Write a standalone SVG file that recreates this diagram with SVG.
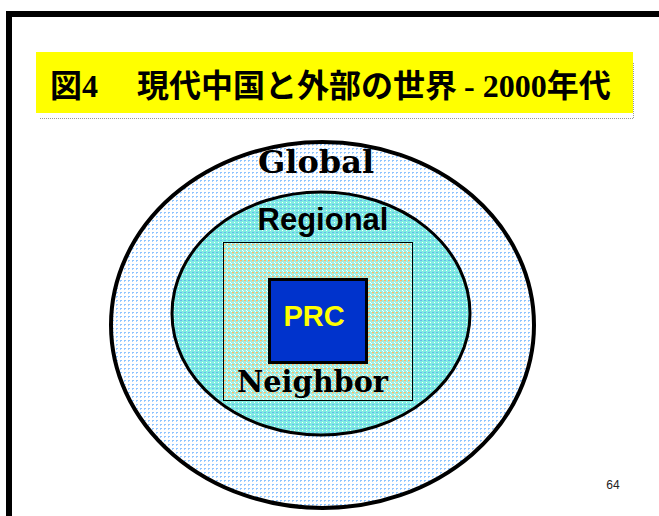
<svg xmlns="http://www.w3.org/2000/svg" width="659" height="516" viewBox="0 0 659 516">
<style>
.title{font-family:"Liberation Serif","Noto Sans CJK JP",serif;font-weight:bold;font-size:32px;fill:#000}
.cjk{font-family:"Noto Sans CJK JP",sans-serif;font-weight:bold}
.serifb{font-family:"DejaVu Serif",serif;font-weight:bold;fill:#000}
.sansb{font-family:"Liberation Sans",Arial,sans-serif;font-weight:bold}
</style>
<defs>
<pattern id="pGlobal" width="4" height="4" patternUnits="userSpaceOnUse">
<rect width="4" height="4" fill="#ffffff"/>
<rect x="0" y="0" width="2" height="1" fill="#8cc4ff"/>
<rect x="0" y="1" width="1" height="1" fill="#a8d0ff"/>
</pattern>
<pattern id="pRegional" width="4" height="4" patternUnits="userSpaceOnUse">
<rect width="4" height="4" fill="#80ece2"/>
<rect x="0" y="0" width="2" height="1" fill="#66b8ee"/>
<rect x="2" y="2" width="1" height="1" fill="#ffffff"/>
</pattern>
<pattern id="pNeighbor" width="4" height="4" patternUnits="userSpaceOnUse">
<rect width="4" height="4" fill="#9cf0e4"/>
<rect x="0" y="0" width="2" height="1" fill="#ffb868"/>
<rect x="0" y="1" width="1" height="1" fill="#ffd0a0"/>
<rect x="2" y="2" width="1" height="1" fill="#ffffff"/>
<rect x="3" y="3" width="1" height="1" fill="#ffffff"/>
</pattern>
</defs>
<rect width="659" height="516" fill="#ffffff"/>
<g id="frame">
<rect x="6" y="11" width="653" height="6" fill="#000"/>
<rect x="6" y="11" width="6" height="505" fill="#000"/>
</g>
<g id="title">
<rect x="36" y="52" width="597" height="61" fill="#ffff00"/>
<path d="M40 118.5 H633.5 V62" fill="none" stroke="#999" stroke-width="1" stroke-dasharray="1,1"/>
<text class="title" x="50" y="97"><tspan class="cjk">図</tspan>4<tspan class="cjk" x="137">現代中国と外部の世界</tspan><tspan x="456"> - 2000</tspan><tspan class="cjk">年代</tspan></text>
</g>
<g id="global">
<ellipse cx="322.5" cy="325" rx="211.5" ry="183" fill="url(#pGlobal)" stroke="#000" stroke-width="4"/>
<text class="serifb" x="316" y="173" font-size="32" text-anchor="middle">Global</text>
</g>
<g id="regional">
<ellipse cx="321" cy="313.5" rx="149" ry="121.5" fill="url(#pRegional)" stroke="#000" stroke-width="3"/>
<text class="sansb" x="323" y="230" font-size="31" text-anchor="middle" fill="#000">Regional</text>
</g>
<g id="neighbor">
<rect x="223.5" y="242.5" width="189" height="158" fill="url(#pNeighbor)" stroke="#000" stroke-width="1"/>
<text class="serifb" x="312.5" y="392" font-size="30" text-anchor="middle" textLength="151" lengthAdjust="spacingAndGlyphs">Neighbor</text>
</g>
<g id="prc">
<rect x="269.5" y="279.5" width="97" height="83" fill="#0033cc" stroke="#000" stroke-width="3"/>
<text class="sansb" x="314" y="326" font-size="29" text-anchor="middle" fill="#ffff00">PRC</text>
</g>
<g id="connectors"/>
<text x="613" y="489" font-family="Liberation Sans, Arial, sans-serif" font-size="12" fill="#222" text-anchor="middle">64</text>
</svg>
